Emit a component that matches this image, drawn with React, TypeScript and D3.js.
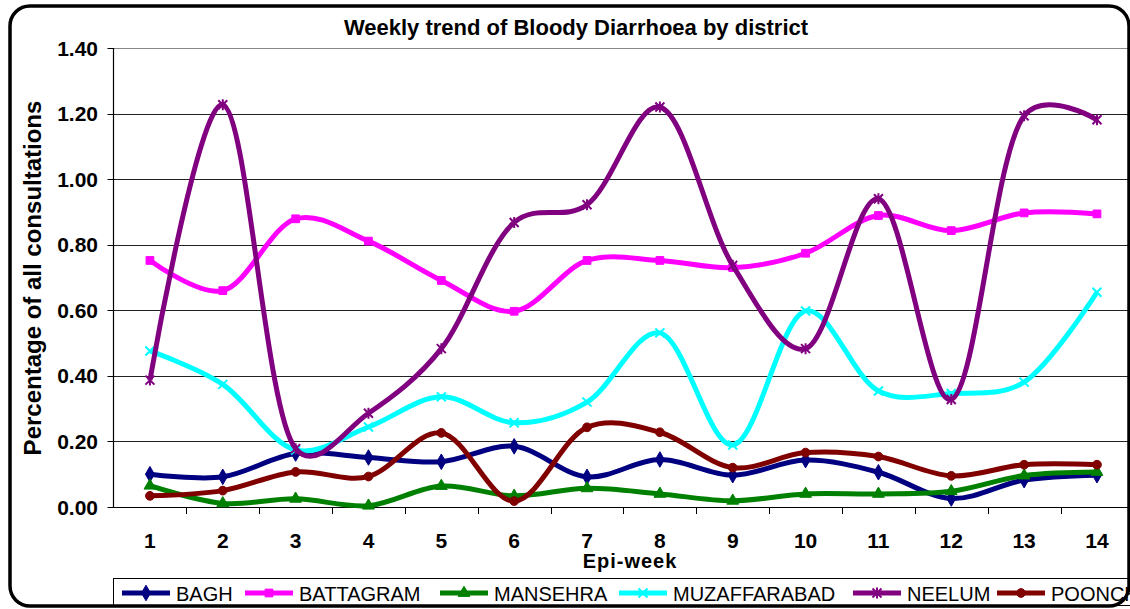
import React from 'react';
import * as d3 from 'd3';

// epi-weeks and percentage of consultations per district
const weeks = ['1', '2', '3', '4', '5', '6', '7', '8', '9', '10', '11', '12', '13', '14'];
const yTicks = [0, 0.2, 0.4, 0.6, 0.8, 1.0, 1.2, 1.4];

const bagh = [0.1, 0.092, 0.163, 0.151, 0.138, 0.185, 0.092, 0.145, 0.097, 0.143, 0.106, 0.026, 0.082, 0.097];
const battagram = [0.752, 0.66, 0.879, 0.811, 0.691, 0.597, 0.752, 0.752, 0.73, 0.774, 0.889, 0.843, 0.897, 0.894];
const mansehra = [0.065, 0.011, 0.025, 0.004, 0.064, 0.034, 0.057, 0.04, 0.019, 0.04, 0.04, 0.048, 0.096, 0.107];
const muzaffarabad = [0.476, 0.374, 0.174, 0.244, 0.336, 0.257, 0.32, 0.531, 0.189, 0.598, 0.354, 0.346, 0.381, 0.655];
const neelum = [0.387, 1.227, 0.178, 0.286, 0.483, 0.868, 0.922, 1.22, 0.737, 0.483, 0.94, 0.328, 1.193, 1.181];
const poonch = [0.034, 0.05, 0.107, 0.093, 0.226, 0.018, 0.243, 0.228, 0.12, 0.166, 0.154, 0.095, 0.129, 0.129];

const series = [
  { name: 'BAGH', values: bagh, color: '#000080', marker: 'diamond' },
  { name: 'BATTAGRAM', values: battagram, color: '#FF00FF', marker: 'square' },
  { name: 'MANSEHRA', values: mansehra, color: '#008000', marker: 'triangle' },
  { name: 'MUZAFFARABAD', values: muzaffarabad, color: '#00FFFF', marker: 'x' },
  { name: 'NEELUM', values: neelum, color: '#800080', marker: 'star' },
  { name: 'POONCH', values: poonch, color: '#800000', marker: 'circle' },
];

const legendX = [122, 245, 440, 619, 853, 997];

const W = 1130, H = 609;
const left = 113.5, top = 48, bottom = 507;
const step = 72.85;
const font = 'Arial, "Liberation Sans", sans-serif';

const Marker = ({ type, x, y, color }: { type: string; x: number; y: number; color: string }) => {
  if (type === 'x' || type === 'star') {
    const r = 4.5;
    let d = `M${-r},${-r}L${r},${r}M${-r},${r}L${r},${-r}`;
    if (type === 'star') d += `M0,${-r - 1}L0,${r + 1}`;
    return <path d={d} transform={`translate(${x},${y})`} stroke={color} strokeWidth={2} fill="none" />;
  }
  const sym = {
    diamond: d3.symbolDiamond,
    square: d3.symbolSquare,
    triangle: d3.symbolTriangle,
    circle: d3.symbolCircle,
  }[type] || d3.symbolCircle;
  const path = d3.symbol().type(sym).size(type === 'diamond' ? 70 : 60)();
  return <path d={path || ''} transform={`translate(${x},${y})`} fill={color} stroke={color} strokeWidth={1} />;
};

export default function App() {
  const x = d3.scaleBand().domain(weeks).range([left, left + step * weeks.length]).padding(0);
  const y = d3.scaleLinear().domain([0, 1.4]).range([bottom, top]);
  const cx = (w: string) => (x(w) || 0) + x.bandwidth() / 2;

  const line = d3
    .line<number>()
    .x((_, i) => cx(weeks[i]))
    .y((d) => y(d))
    .curve(d3.curveCatmullRom.alpha(0.25));

  return (
    <svg width={W} height={H} style={{ position: 'absolute', left: 0, top: 0, background: '#fff' }}>
      <rect x={0} y={0} width={W} height={H} fill="#fff" />

      {/* title */}
      <text x={576} y={35} textAnchor="middle" fontFamily={font} fontWeight="bold" fontSize={22}>
        Weekly trend of Bloody Diarrhoea by district
      </text>

      {/* gridlines */}
      {yTicks.map((t) => (
        <line
          key={t}
          x1={left}
          x2={W}
          y1={Math.round(y(t)) + 0.5}
          y2={Math.round(y(t)) + 0.5}
          stroke={t === 1.4 ? '#888' : '#222'}
          strokeWidth={1}
        />
      ))}
      {/* axes */}
      <line x1={left} x2={left} y1={top} y2={bottom + 0.5} stroke="#000" strokeWidth={1.2} />
      <line x1={left} x2={W} y1={bottom + 0.5} y2={bottom + 0.5} stroke="#000" strokeWidth={1.2} />
      {yTicks.map((t) => (
        <g key={'yt' + t}>
          <line x1={left - 6} x2={left} y1={Math.round(y(t)) + 0.5} y2={Math.round(y(t)) + 0.5} stroke="#000" />
          <text
            x={98}
            y={y(t) + 7.5}
            textAnchor="end"
            fontFamily={font}
            fontWeight="bold"
            fontSize={21}
          >
            {t.toFixed(2)}
          </text>
        </g>
      ))}
      {weeks.map((w, i) => (
        <line
          key={'xt' + w}
          x1={Math.round(left + step * (i + 1)) + 0.5}
          x2={Math.round(left + step * (i + 1)) + 0.5}
          y1={bottom}
          y2={bottom + 7}
          stroke="#000"
        />
      ))}
      {weeks.map((w) => (
        <text
          key={'xl' + w}
          x={cx(w)}
          y={548}
          textAnchor="middle"
          fontFamily={font}
          fontWeight="bold"
          fontSize={21}
        >
          {w}
        </text>
      ))}

      {/* axis titles */}
      <text x={630} y={568} textAnchor="middle" fontFamily={font} fontWeight="bold" fontSize={20} letterSpacing={1}>
        Epi-week
      </text>
      <text
        transform="translate(41,278) rotate(-90)"
        textAnchor="middle"
        fontFamily={font}
        fontWeight="bold"
        fontSize={24}
      >
        Percentage of all consultations
      </text>

      {/* series */}
      {series.map((s) => (
        <g key={s.name}>
          <path d={line(s.values) || ''} fill="none" stroke={s.color} strokeWidth={5} strokeLinejoin="round" />
          {s.values.map((v, i) => (
            <Marker key={i} type={s.marker} x={cx(weeks[i])} y={y(v)} color={s.color} />
          ))}
        </g>
      ))}

      {/* legend */}
      <rect x={113.5} y={578.5} width={1100} height={27} fill="#fff" stroke="#000" strokeWidth={1} />
      {series.map((s, i) => (
        <g key={'lg' + s.name}>
          <line x1={legendX[i]} x2={legendX[i] + 48} y1={593} y2={593} stroke={s.color} strokeWidth={5} />
          <Marker type={s.marker} x={legendX[i] + 24} y={593} color={s.color} />
          <text x={legendX[i] + 54} y={601} fontFamily={font} fontSize={20}>
            {s.name}
          </text>
        </g>
      ))}

      {/* chart border on top */}
      <rect x={10} y={6} width={1119} height={600} rx={20} ry={20} fill="none" stroke="#000" strokeWidth={3.5} />
    </svg>
  );
}
